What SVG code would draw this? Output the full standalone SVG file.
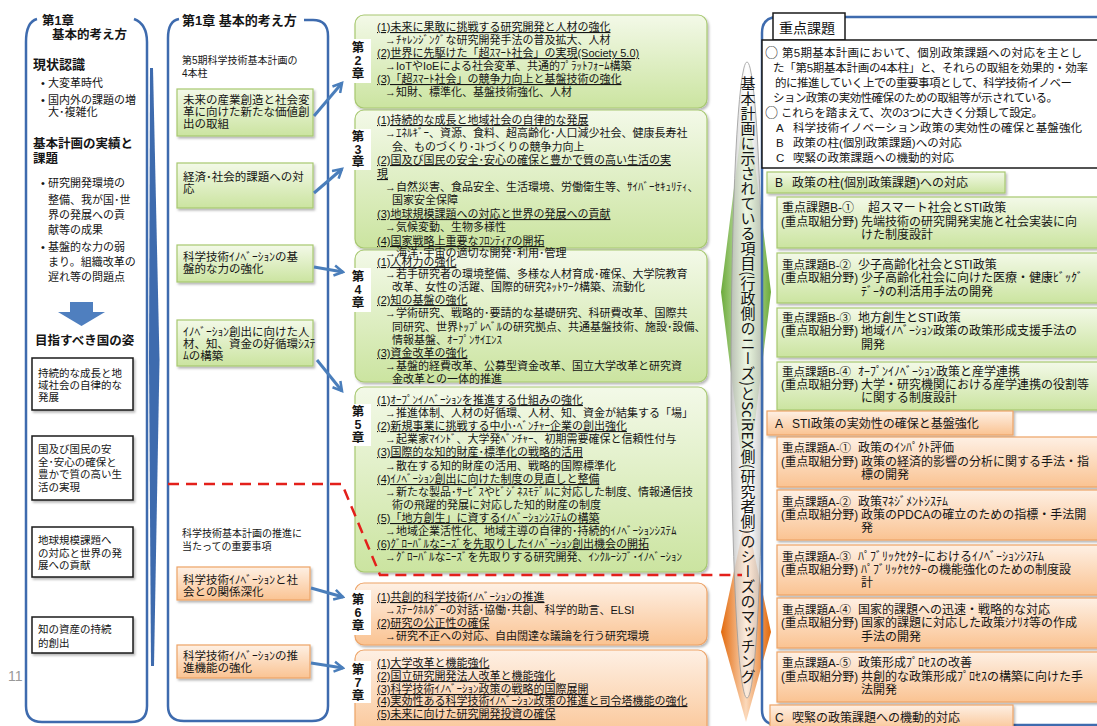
<svg xmlns="http://www.w3.org/2000/svg" width="1097" height="726" viewBox="0 0 1097 726">
<defs>
<style>
text{font-family:"Liberation Sans","Noto Sans CJK JP",sans-serif;fill:#151515}
.f10{font-size:10.5px}.f11{font-size:11px}.f115{font-size:11.5px}.f12{font-size:12px}
.b{font-weight:bold}.u{text-decoration:underline}
.ch{font-size:12.5px;font-weight:bold;text-anchor:middle}
.cj{font-family:"Noto Sans CJK JP",sans-serif}
.frame{fill:none;stroke:#3E6BAE;stroke-width:2.5}
.gbox{fill:url(#gG);stroke:#A7C870;stroke-width:1.2;filter:url(#sh)}
.obox{fill:url(#gO);stroke:#EDA366;stroke-width:1.2;filter:url(#sh)}
.wbox{fill:#fff;stroke:#1a1a1a;stroke-width:1.5}
.lbl{fill:#fff}
.arr{fill:none;stroke:#4A7EBB;stroke-width:3;marker-end:url(#ah)}
.red{fill:none;stroke:#E3201B;stroke-width:2.5;stroke-dasharray:11 7}
</style>
<linearGradient id="gG" x1="0" y1="0" x2="0" y2="1"><stop offset="0" stop-color="#F3F9E8"/><stop offset="1" stop-color="#CBE4A0"/></linearGradient>
<linearGradient id="gO" x1="0" y1="0" x2="0" y2="1"><stop offset="0" stop-color="#FEF0E4"/><stop offset="1" stop-color="#FAC392"/></linearGradient>
<linearGradient id="gDG" x1="0" y1="0" x2="1" y2="0"><stop offset="0" stop-color="#6BAA3A"/><stop offset="0.5" stop-color="#DCEFC8"/><stop offset="1" stop-color="#6BAA3A"/></linearGradient>
<linearGradient id="gDO" x1="0" y1="0" x2="1" y2="0"><stop offset="0" stop-color="#E2680A"/><stop offset="0.5" stop-color="#FBD9BB"/><stop offset="1" stop-color="#E2680A"/></linearGradient>
<linearGradient id="gE" x1="0" y1="0" x2="1" y2="0"><stop offset="0" stop-color="#BDBDBD" stop-opacity="0.9"/><stop offset="0.5" stop-color="#FFFFFF" stop-opacity="0.5"/><stop offset="1" stop-color="#BDBDBD" stop-opacity="0.9"/></linearGradient>
<filter id="sh" x="-5%" y="-10%" width="110%" height="125%"><feDropShadow dx="1.5" dy="2" stdDeviation="1.2" flood-color="#000" flood-opacity="0.28"/></filter>
<marker id="ah" viewBox="0 0 10 10" refX="8" refY="5" markerWidth="4.2" markerHeight="4.2" orient="auto" markerUnits="strokeWidth"><path d="M1,1 L8,5 L1,9" fill="none" stroke="#4A7EBB" stroke-width="2"/></marker>
</defs>
<rect width="1097" height="726" fill="#fff"/>

<!-- Column 1 -->
<g id="col1">
<path class="frame" d="M37 19 Q26 22 26 42 L26 706 Q26 722 42 722 L131 722 Q147 722 147 706 L147 42 Q147 24 134 19"/>
<text class="b" font-size="12.5" x="42" y="25">第1章</text>
<text class="b" font-size="12.5" x="52" y="39">基本的考え方</text>
<text class="b" font-size="13" x="33" y="69">現状認識</text>
<text class="f11" x="41" y="87">•</text><text class="f11" x="48" y="87">大変革時代</text>
<text class="f11" x="41" y="104">•</text><text class="f11" x="48" y="104">国内外の課題の増</text>
<text class="f11" x="48" y="116">大･複雑化</text>
<text class="b" font-size="12.5" x="33" y="148">基本計画の実績と</text>
<text class="b" font-size="12.5" x="33" y="163">課題</text>
<text class="f11" x="41" y="187">•</text><text class="f11" x="48" y="187">研究開発環境の</text>
<text class="f11" x="48" y="204">整備、我が国･世</text>
<text class="f11" x="48" y="219">界の発展への貢</text>
<text class="f11" x="48" y="234">献等の成果</text>
<text class="f11" x="41" y="251">•</text><text class="f11" x="48" y="251">基盤的な力の弱</text>
<text class="f11" x="48" y="266">まり。組織改革の</text>
<text class="f11" x="48" y="281">遅れ等の問題点</text>
<polygon points="70,302 93,302 93,312 105,312 81.5,326 58,312 70,312" fill="#4F7FBF"/>
<text class="b" font-size="12.5" x="35" y="345">目指すべき国の姿</text>
<text x="8" y="681" font-size="14" style="fill:#999">11</text>
</g>
<g id="goal1"><rect class="wbox" x="32" y="358" width="101" height="52" filter="url(#sh)"/>
<text class="f10" x="38" y="377">持続的な成長と地</text><text class="f10" x="38" y="389">域社会の自律的な</text><text class="f10" x="38" y="401">発展</text></g>
<g id="goal2"><rect class="wbox" x="32" y="436" width="101" height="64" filter="url(#sh)"/>
<text class="f10" x="38" y="453">国及び国民の安</text><text class="f10" x="38" y="466">全･安心の確保と</text><text class="f10" x="38" y="478">豊かで質の高い生</text><text class="f10" x="38" y="491">活の実現</text></g>
<g id="goal3"><rect class="wbox" x="32" y="527" width="101" height="50" filter="url(#sh)"/>
<text class="f10" x="38" y="544">地球規模課題へ</text><text class="f10" x="38" y="557">の対応と世界の発</text><text class="f10" x="38" y="569">展への貢献</text></g>
<g id="goal4"><rect class="wbox" x="32" y="617" width="101" height="36" filter="url(#sh)"/>
<text class="f10" x="38" y="633">知の資産の持続</text><text class="f10" x="38" y="647">的創出</text></g>
<polygon id="wedge" points="150,68 153,68 159.5,360 154,666 151,666 149,360" fill="#3E6BAE"/>

<!-- Column 2 -->
<g id="col2">
<path class="frame" d="M179 19 Q168 21 168 38 L168 706 Q168 721 184 721 L312 721 Q328 721 328 706 L328 36 Q328 20 313 20 L304 20"/>
<text class="b" font-size="13" x="182" y="25">第1章 基本的考え方</text>
<text font-size="10" x="182" y="64">第5期科学技術基本計画の</text>
<text font-size="10" x="182" y="77">4本柱</text>
<text font-size="10" x="182" y="537">科学技術基本計画の推進に</text>
<text font-size="10" x="182" y="550">当たっての重要事項</text>
</g>
<g id="p1"><rect class="gbox" x="177" y="89" width="136" height="47"/>
<text class="f115" x="183" y="104">未来の産業創造と社会変</text><text class="f115" x="183" y="116">革に向けた新たな価値創</text><text class="f115" x="183" y="128">出の取組</text></g>
<g id="p2"><rect class="gbox" x="177" y="163" width="136" height="45"/>
<text class="f115" x="183" y="181">経済･社会的課題への対</text><text class="f115" x="183" y="193">応</text></g>
<g id="p3"><rect class="gbox" x="177" y="245" width="136" height="37"/>
<text class="f115" x="183" y="261">科学技術ｲﾉﾍﾞｰｼｮﾝの基</text><text class="f115" x="183" y="273">盤的な力の強化</text></g>
<g id="p4"><rect class="gbox" x="177" y="320" width="136" height="46"/>
<text class="f115" x="183" y="336">ｲﾉﾍﾞｰｼｮﾝ創出に向けた人</text><text class="f115" x="183" y="348">材、知、資金の好循環ｼｽﾃ</text><text class="f115" x="183" y="360">ﾑの構築</text></g>
<g id="p5"><rect class="obox" x="177" y="567" width="133" height="33"/>
<text class="f115" x="183" y="584">科学技術ｲﾉﾍﾞｰｼｮﾝと社</text><text class="f115" x="183" y="596">会との関係深化</text></g>
<g id="p6"><rect class="obox" x="177" y="645" width="133" height="33"/>
<text class="f115" x="183" y="660">科学技術ｲﾉﾍﾞｰｼｮﾝの推</text><text class="f115" x="183" y="672">進機能の強化</text></g>

<!-- Chapter boxes -->
<g id="ch2"><rect class="gbox" x="355" y="15" width="352" height="93" rx="9"/>
<rect class="lbl" x="346" y="39" width="25" height="44"/>
<text class="ch" x="358" y="52">第</text><text class="ch" x="358" y="65">2</text><text class="ch" x="358" y="78">章</text>
<text class="f11 u" x="377" y="31">(1)未来に果敢に挑戦する研究開発と人材の強化</text>
<text class="f11" x="385" y="44">→ﾁｬﾚﾝｼﾞﾝｸﾞな研究開発手法の普及拡大、人材</text>
<text class="f11 u" x="377" y="57">(2)世界に先駆けた「超ｽﾏｰﾄ社会」の実現(Society 5.0)</text>
<text class="f11" x="385" y="70">→IoTやIoEによる社会変革、共通的ﾌﾟﾗｯﾄﾌｫｰﾑ構築</text>
<text class="f11 u" x="377" y="83">(3)「超ｽﾏｰﾄ社会」の競争力向上と基盤技術の強化</text>
<text class="f11" x="385" y="96">→知財、標準化、基盤技術強化、人材</text>
</g>
<g id="ch3"><rect class="gbox" x="355" y="110" width="352" height="138" rx="9"/>
<rect class="lbl" x="346" y="129" width="25" height="41"/>
<text class="ch" x="358" y="141">第</text><text class="ch" x="358" y="154">3</text><text class="ch" x="358" y="166">章</text>
<text class="f11 u" x="377" y="124">(1)持続的な成長と地域社会の自律的な発展</text>
<text class="f11" x="385" y="137">→ｴﾈﾙｷﾞｰ、資源、食料、超高齢化･人口減少社会、健康長寿社</text>
<text class="f11" x="392" y="151">会、ものづくり･ｺﾄづくりの競争力向上</text>
<text class="f11 u" x="377" y="164">(2)国及び国民の安全･安心の確保と豊かで質の高い生活の実</text>
<text class="f11 u" x="377" y="178">現</text>
<text class="f11" x="385" y="191">→自然災害、食品安全、生活環境、労働衛生等、ｻｲﾊﾞｰｾｷｭﾘﾃｨ、</text>
<text class="f11" x="392" y="204">国家安全保障</text>
<text class="f11 u" x="377" y="218">(3)地球規模課題への対応と世界の発展への貢献</text>
<text class="f11" x="385" y="231">→気候変動、生物多様性</text>
<text class="f11 u" x="377" y="245">(4)国家戦略上重要なﾌﾛﾝﾃｨｱの開拓</text>
</g>
<g id="ch4"><rect class="gbox" x="355" y="250" width="352" height="132" rx="9"/>
<rect class="lbl" x="346" y="268" width="25" height="44"/>
<text class="ch" x="358" y="281">第</text><text class="ch" x="358" y="294">4</text><text class="ch" x="358" y="307">章</text>
<text class="f11" x="385" y="257">→海洋･宇宙の適切な開発･利用･管理</text>
<text class="f11 u" x="377" y="266">(1)人材力の強化</text>
<text class="f11" x="385" y="278">→若手研究者の環境整備、多様な人材育成･確保、大学院教育</text>
<text class="f11" x="392" y="291">改革、女性の活躍、国際的研究ﾈｯﾄﾜｰｸ構築、流動化</text>
<text class="f11 u" x="377" y="304">(2)知の基盤の強化</text>
<text class="f11" x="385" y="317">→学術研究、戦略的･要請的な基礎研究、科研費改革、国際共</text>
<text class="f11" x="392" y="331">同研究、世界ﾄｯﾌﾟﾚﾍﾞﾙの研究拠点、共通基盤技術、施設･設備、</text>
<text class="f11" x="392" y="344">情報基盤、ｵｰﾌﾟﾝｻｲｴﾝｽ</text>
<text class="f11 u" x="377" y="357">(3)資金改革の強化</text>
<text class="f11" x="385" y="370">→基盤的経費改革、公募型資金改革、国立大学改革と研究資</text>
<text class="f11" x="392" y="383">金改革との一体的推進</text>
</g>
<g id="ch5"><rect class="gbox" x="355" y="387" width="352" height="185" rx="9"/>
<rect class="lbl" x="346" y="404" width="25" height="42"/>
<text class="ch" x="358" y="416">第</text><text class="ch" x="358" y="429">5</text><text class="ch" x="358" y="442">章</text>
<text class="f11 u" x="377" y="404">(1)ｵｰﾌﾟﾝｲﾉﾍﾞｰｼｮﾝを推進する仕組みの強化</text>
<text class="f11" x="385" y="417">→推進体制、人材の好循環、人材、知、資金が結集する「場」</text>
<text class="f11 u" x="377" y="430">(2)新規事業に挑戦する中小･ﾍﾞﾝﾁｬｰ企業の創出強化</text>
<text class="f11" x="385" y="443">→起業家ﾏｲﾝﾄﾞ、大学発ﾍﾞﾝﾁｬｰ、初期需要確保と信頼性付与</text>
<text class="f11 u" x="377" y="456">(3)国際的な知的財産･標準化の戦略的活用</text>
<text class="f11" x="385" y="470">→散在する知的財産の活用、戦略的国際標準化</text>
<text class="f11 u" x="377" y="483">(4)ｲﾉﾍﾞｰｼｮﾝ創出に向けた制度の見直しと整備</text>
<text class="f11" x="385" y="496">→新たな製品･ｻｰﾋﾞｽやﾋﾞｼﾞﾈｽﾓﾃﾞﾙに対応した制度、情報通信技</text>
<text class="f11" x="392" y="509">術の飛躍的発展に対応した知的財産の制度</text>
<text class="f11 u" x="377" y="522">(5)「地方創生」に資するｲﾉﾍﾞｰｼｮﾝｼｽﾃﾑの構築</text>
<text class="f11" x="385" y="535">→地域企業活性化、地域主導の自律的･持続的ｲﾉﾍﾞｰｼｮﾝｼｽﾃﾑ</text>
<text class="f11 u" x="377" y="548">(6)ｸﾞﾛｰﾊﾞﾙなﾆｰｽﾞを先取りしたｲﾉﾍﾞｰｼｮﾝ創出機会の開拓</text>
<text class="f11" x="385" y="561">→ｸﾞﾛｰﾊﾞﾙなﾆｰｽﾞを先取りする研究開発、ｲﾝｸﾙｰｼﾌﾞ･ｲﾉﾍﾞｰｼｮﾝ</text>
</g>
<g id="ch6"><rect class="obox" x="355" y="583" width="352" height="62" rx="9"/>
<rect class="lbl" x="346" y="590" width="25" height="45"/>
<text class="ch" x="358" y="604">第</text><text class="ch" x="358" y="617">6</text><text class="ch" x="358" y="630">章</text>
<text class="f11 u" x="377" y="601">(1)共創的科学技術ｲﾉﾍﾞｰｼｮﾝの推進</text>
<text class="f11" x="385" y="614">→ｽﾃｰｸﾎﾙﾀﾞｰの対話･協働･共創、科学的助言、ELSI</text>
<text class="f11 u" x="377" y="627">(2)研究の公正性の確保</text>
<text class="f11" x="385" y="640">→研究不正への対応、自由闊達な議論を行う研究環境</text>
</g>
<g id="ch7"><rect class="obox" x="355" y="650" width="352" height="92" rx="9"/>
<rect class="lbl" x="346" y="661" width="25" height="42"/>
<text class="ch" x="358" y="674">第</text><text class="ch" x="358" y="687">7</text><text class="ch" x="358" y="700">章</text>
<text class="f11 u" x="377" y="667">(1)大学改革と機能強化</text>
<text class="f11 u" x="377" y="680">(2)国立研究開発法人改革と機能強化</text>
<text class="f11 u" x="377" y="693">(3)科学技術ｲﾉﾍﾞｰｼｮﾝ政策の戦略的国際展開</text>
<text class="f11 u" x="377" y="705">(4)実効性ある科学技術ｲﾉﾍﾞｰｼｮﾝ政策の推進と司令塔機能の強化</text>
<text class="f11 u" x="377" y="718">(5)未来に向けた研究開発投資の確保</text>
</g>

<!-- Middle matching shape -->
<g id="matching">
<polygon points="746,92 771,292 746,495 721,292" fill="url(#gDG)"/>
<polygon points="746,515 771,632 746,722 721,632" fill="url(#gDO)"/>
<ellipse cx="747" cy="380" rx="16" ry="318" fill="url(#gE)" stroke="#9A9A9A" stroke-width="0.8"/>
<text x="748" y="76" font-size="15" style="writing-mode:vertical-rl;font-family:'Noto Sans CJK JP','Liberation Sans',sans-serif">基本計画に示されている項目(行政側のニーズ)とSciREX側(研究者側)のシーズのマッチング</text>
</g>

<!-- Right panel -->
<g id="right">
<path class="frame" d="M1100 17 L778 17 Q762 17 762 33 L762 710 Q762 725 778 725 L1100 725"/>
</g>
<g id="jtitle"><rect class="wbox" x="773" y="13" width="72" height="27"/><text font-size="14" x="779" y="33">重点課題</text></g>
<g id="summary"><rect class="wbox" x="762" y="40" width="345" height="128"/>
<text class="cj" font-size="13" x="765" y="57">○</text><text font-size="11.5" x="782" y="56.5" textLength="300" lengthAdjust="spacing">第5期基本計画において、個別政策課題への対応を主とし</text>
<text font-size="11.5" x="773" y="71.5" textLength="315" lengthAdjust="spacing">た「第5期基本計画の4本柱」と、それらの取組を効果的・効率</text>
<text font-size="11.5" x="775" y="86.5" textLength="297" lengthAdjust="spacing">的に推進していく上での重要事項として、科学技術イノベー</text>
<text font-size="11.5" x="773" y="101.5" textLength="285" lengthAdjust="spacing">ション政策の実効性確保のための取組等が示されている。</text>
<text class="cj" font-size="13" x="765" y="117">○</text><text font-size="11.5" x="781" y="116.5" textLength="262" lengthAdjust="spacing">これらを踏まえて、次の3つに大きく分類して設定。</text>
<text font-size="11.5" x="776" y="131.5">A</text><text font-size="11.5" x="793" y="131.5" textLength="289" lengthAdjust="spacing">科学技術イノベーション政策の実効性の確保と基盤強化</text>
<text font-size="11.5" x="776" y="146.5">B</text><text font-size="11.5" x="793" y="146.5">政策の柱(個別政策課題)への対応</text>
<text font-size="11.5" x="776" y="161.5">C</text><text font-size="11.5" x="793" y="161.5">喫緊の政策課題への機動的対応</text>
</g>
<g id="hB"><rect class="gbox" x="767" y="172" width="238" height="21"/><text class="f12" x="775" y="187">B</text><text class="f12" x="792" y="187">政策の柱(個別政策課題)への対応</text></g>
<g id="B1"><rect class="gbox" x="777" y="197" width="330" height="51"/>
<text class="f12" x="782" y="212">重点課題B-①</text><text class="f12" x="868" y="212">超スマート社会とSTI政策</text>
<text class="f12" x="781" y="226" textLength="77" lengthAdjust="spacingAndGlyphs">(重点取組分野)</text><text class="f12" x="861" y="226">先端技術の研究開発実施と社会実装に向</text>
<text class="f12" x="861" y="239">けた制度設計</text></g>
<g id="B2"><rect class="gbox" x="777" y="253" width="330" height="50"/>
<text class="f115" x="782" y="269">重点課題B-②</text><text class="f12" x="858" y="269">少子高齢化社会とSTI政策</text>
<text class="f12" x="781" y="282" textLength="77" lengthAdjust="spacingAndGlyphs">(重点取組分野)</text><text class="f12" x="861" y="282">少子高齢化社会に向けた医療・健康ﾋﾞｯｸﾞ</text>
<text class="f12" x="861" y="296">ﾃﾞｰﾀの利活用手法の開発</text></g>
<g id="B3"><rect class="gbox" x="777" y="308" width="330" height="49"/>
<text class="f115" x="782" y="322">重点課題B-③</text><text class="f12" x="858" y="322">地方創生とSTI政策</text>
<text class="f12" x="781" y="335" textLength="77" lengthAdjust="spacingAndGlyphs">(重点取組分野)</text><text class="f12" x="861" y="335">地域ｲﾉﾍﾞｰｼｮﾝ政策の政策形成支援手法の</text>
<text class="f12" x="861" y="349">開発</text></g>
<g id="B4"><rect class="gbox" x="777" y="362" width="330" height="48"/>
<text class="f115" x="782" y="376">重点課題B-④</text><text class="f12" x="858" y="376">ｵｰﾌﾟﾝｲﾉﾍﾞｰｼｮﾝ政策と産学連携</text>
<text class="f12" x="781" y="389" textLength="77" lengthAdjust="spacingAndGlyphs">(重点取組分野)</text><text class="f12" x="861" y="389">大学・研究機関における産学連携の役割等</text>
<text class="f12" x="861" y="402">に関する制度設計</text></g>
<g id="hA"><rect class="obox" x="767" y="411" width="246" height="24"/><text class="f12" x="775" y="428">A</text><text class="f12" x="792" y="428">STI政策の実効性の確保と基盤強化</text></g>
<g id="A1"><rect class="obox" x="777" y="437" width="330" height="50"/>
<text class="f115" x="782" y="452">重点課題A-①</text><text class="f12" x="858" y="452">政策のｲﾝﾊﾟｸﾄ評価</text>
<text class="f12" x="781" y="466" textLength="77" lengthAdjust="spacingAndGlyphs">(重点取組分野)</text><text class="f12" x="861" y="466">政策の経済的影響の分析に関する手法・指</text>
<text class="f12" x="861" y="479">標の開発</text></g>
<g id="A2"><rect class="obox" x="777" y="490" width="330" height="50"/>
<text class="f115" x="782" y="506">重点課題A-②</text><text class="f12" x="858" y="506">政策ﾏﾈｼﾞﾒﾝﾄｼｽﾃﾑ</text>
<text class="f12" x="781" y="519" textLength="77" lengthAdjust="spacingAndGlyphs">(重点取組分野)</text><text class="f12" x="861" y="519">政策のPDCAの確立のための指標・手法開</text>
<text class="f12" x="861" y="532">発</text></g>
<g id="A3"><rect class="obox" x="777" y="545" width="330" height="50"/>
<text class="f115" x="782" y="561">重点課題A-③</text><text class="f12" x="858" y="561">ﾊﾟﾌﾞﾘｯｸｾｸﾀｰにおけるｲﾉﾍﾞｰｼｮﾝｼｽﾃﾑ</text>
<text class="f12" x="781" y="574" textLength="77" lengthAdjust="spacingAndGlyphs">(重点取組分野)</text><text class="f12" x="861" y="574">ﾊﾟﾌﾞﾘｯｸｾｸﾀｰの機能強化のための制度設</text>
<text class="f12" x="861" y="587">計</text></g>
<g id="A4"><rect class="obox" x="777" y="598" width="330" height="50"/>
<text class="f115" x="782" y="614">重点課題A-④</text><text class="f12" x="858" y="614">国家的課題への迅速・戦略的な対応</text>
<text class="f12" x="781" y="627" textLength="77" lengthAdjust="spacingAndGlyphs">(重点取組分野)</text><text class="f12" x="861" y="627">国家的課題に対応した政策ｼﾅﾘｵ等の作成</text>
<text class="f12" x="861" y="641">手法の開発</text></g>
<g id="A5"><rect class="obox" x="777" y="652" width="330" height="50"/>
<text class="f115" x="782" y="667">重点課題A-⑤</text><text class="f12" x="858" y="667">政策形成ﾌﾟﾛｾｽの改善</text>
<text class="f12" x="781" y="681" textLength="77" lengthAdjust="spacingAndGlyphs">(重点取組分野)</text><text class="f12" x="861" y="681">共創的な政策形成ﾌﾟﾛｾｽの構築に向けた手</text>
<text class="f12" x="861" y="694">法開発</text></g>
<g id="hC"><rect class="obox" x="770" y="705" width="243" height="26"/><text class="f12" x="775" y="722">C</text><text class="f12" x="792" y="722">喫緊の政策課題への機動的対応</text></g>

<!-- Connectors -->
<g id="connectors">
<path class="red" d="M168 484 L342 484 L380 575 L742 575"/>
<line class="arr" x1="314" y1="116" x2="342" y2="83"/>
<line class="arr" x1="314" y1="193" x2="342" y2="169"/>
<line class="arr" x1="314" y1="267" x2="343" y2="272"/>
<line class="arr" x1="317" y1="360" x2="342" y2="391"/>
<line class="arr" x1="311" y1="588" x2="343" y2="597"/>
<line class="arr" x1="311" y1="663" x2="343" y2="668"/>
</g>
</svg>
